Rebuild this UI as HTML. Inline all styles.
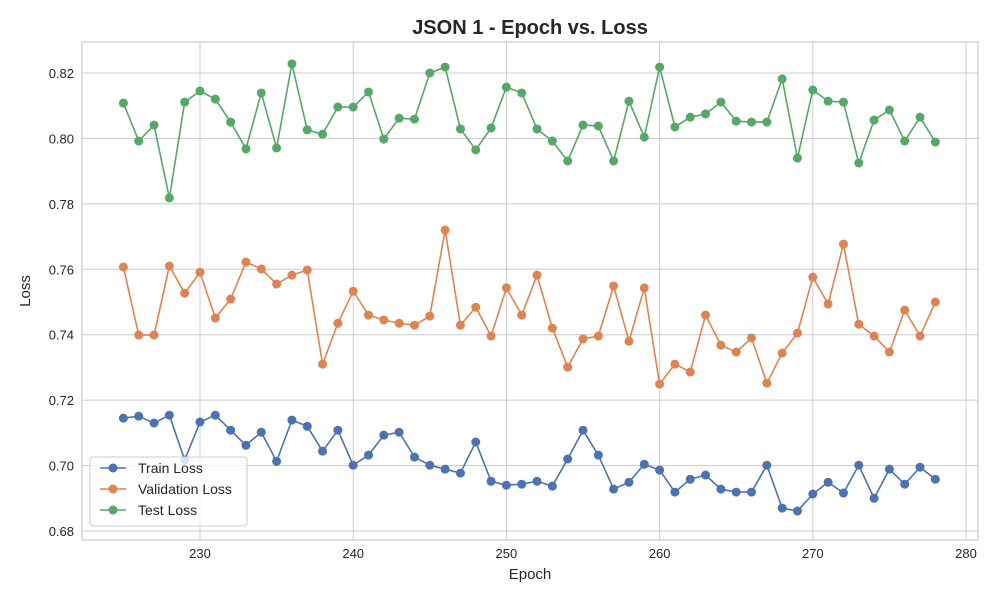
<!DOCTYPE html>
<html><head><meta charset="utf-8"><style>
body{margin:0;background:#fff;font-family:"Liberation Sans",sans-serif}
svg text{font-family:"Liberation Sans",sans-serif;fill:#262626}
</style></head><body>
<svg id="chart" width="1000" height="600"></svg>
<script>
const epochs=[];for(let e=225;e<=278;e++)epochs.push(e);
const trainLoss=[0.7145,0.7151,0.7130,0.7154,0.7017,0.7133,0.7154,0.7108,0.7062,0.7102,0.7013,0.7139,0.7120,0.7044,0.7108,0.7001,0.7032,0.7093,0.7102,0.7026,0.7001,0.6989,0.6977,0.7072,0.6952,0.6940,0.6943,0.6952,0.6937,0.7020,0.7108,0.7032,0.6928,0.6949,0.7004,0.6986,0.6919,0.6958,0.6971,0.6928,0.6919,0.6919,0.7001,0.6870,0.6861,0.6913,0.6949,0.6916,0.7001,0.6900,0.6989,0.6943,0.6995,0.6958];
const valLoss=[0.7607,0.7399,0.7399,0.7610,0.7527,0.7591,0.7451,0.7509,0.7622,0.7601,0.7555,0.7582,0.7598,0.7310,0.7435,0.7533,0.7460,0.7445,0.7435,0.7429,0.7457,0.7720,0.7429,0.7484,0.7396,0.7543,0.7460,0.7582,0.7420,0.7301,0.7387,0.7396,0.7549,0.7380,0.7543,0.7249,0.7310,0.7286,0.7460,0.7368,0.7347,0.7390,0.7252,0.7344,0.7405,0.7576,0.7494,0.7677,0.7432,0.7396,0.7347,0.7475,0.7396,0.7500];
const testLoss=[0.8108,0.7992,0.8041,0.7818,0.8111,0.8145,0.8120,0.8050,0.7968,0.8139,0.7971,0.8228,0.8026,0.8013,0.8096,0.8096,0.8142,0.7998,0.8062,0.8059,0.8200,0.8218,0.8029,0.7965,0.8032,0.8157,0.8139,0.8029,0.7992,0.7931,0.8041,0.8038,0.7931,0.8114,0.8004,0.8218,0.8035,0.8065,0.8075,0.8111,0.8053,0.8050,0.8050,0.8182,0.7940,0.8148,0.8114,0.8111,0.7925,0.8056,0.8087,0.7992,0.8065,0.7989];
const xTicks=[230,240,250,260,270,280];
const yTicks=[0.68,0.70,0.72,0.74,0.76,0.78,0.80,0.82];
const seriesNames=["Train Loss","Validation Loss","Test Loss"];
const seriesColors=["#4c72b0","#dd8452","#55a868"];
const NS="http://www.w3.org/2000/svg";
const svg=document.getElementById("chart");
const L=82,R=978,T=42,B=540;
const xs=v=>200+(v-230)*(766/50);
const ys=v=>73+(0.82-v)*(458/0.14);
function mk(tag,at,parent){const e=document.createElementNS(NS,tag);for(const k in at)e.setAttribute(k,at[k]);(parent||svg).appendChild(e);return e;}
const grid=mk("g",{});


xTicks.forEach(t=>{mk("line",{x1:xs(t),x2:xs(t),y1:T,y2:B,stroke:"#cccccc","stroke-width":1},grid);
 const tx=mk("text",{x:xs(t),y:B+18,"text-anchor":"middle","font-size":13});tx.textContent=t;
 
 });
yTicks.forEach(t=>{mk("line",{x1:L,x2:R,y1:ys(t),y2:ys(t),stroke:"#cccccc","stroke-width":1},grid);
 const tx=mk("text",{x:L-8,y:ys(t)+5,"text-anchor":"end","font-size":13});tx.textContent=t.toFixed(2);
 
 });
const frame=mk("rect",{x:L,y:T,width:R-L,height:B-T,fill:"none",stroke:"#cccccc","stroke-width":1.2});


[trainLoss,valLoss,testLoss].forEach((d,i)=>{
 const g=mk("g",{});
 
 
 mk("polyline",{points:d.map((v,j)=>xs(epochs[j])+","+ys(v)).join(" "),fill:"none",stroke:seriesColors[i],"stroke-width":1.6},g);
 d.forEach((v,j)=>{const c=mk("circle",{cx:xs(epochs[j]),cy:ys(v),r:4.5,fill:seriesColors[i]},g);
  
  });
});
const title=mk("text",{x:530,y:34,"text-anchor":"middle","font-size":20,"font-weight":"bold"});title.textContent="JSON 1 - Epoch vs. Loss";


const xl=mk("text",{x:530,y:579,"text-anchor":"middle","font-size":15});xl.textContent="Epoch";


const yl=mk("text",{x:30,y:291,"text-anchor":"middle","font-size":15,transform:"rotate(-90 30 291)"});yl.textContent="Loss";


const lg=mk("g",{});


mk("rect",{x:90,y:457,width:157,height:69,rx:3,fill:"#fff","fill-opacity":0.8,stroke:"#cccccc"},lg);
seriesNames.forEach((n,i)=>{const y=468+i*21;
 const e=mk("g",{},lg);
 
 
 mk("line",{x1:100,x2:126,y1:y,y2:y,stroke:seriesColors[i],"stroke-width":1.6},e);
 mk("circle",{cx:113,cy:y,r:4.5,fill:seriesColors[i]},e);
 const t=mk("text",{x:138,y:y+5,"font-size":14},e);t.textContent=n;});
</script>
</body></html>
